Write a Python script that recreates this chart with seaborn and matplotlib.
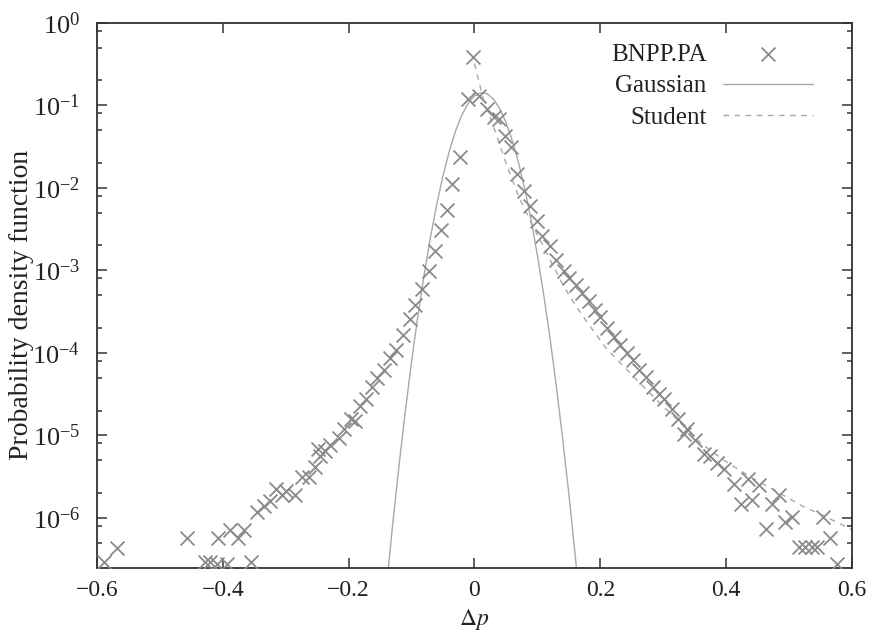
import numpy as np
import pandas as pd
import matplotlib
matplotlib.use("Agg")
import matplotlib.pyplot as plt
import seaborn as sns
from matplotlib.ticker import FixedLocator, NullFormatter, LogFormatterSciNotation

# ---------------- data ----------------
data_x = [-0.589, -0.568, -0.457, -0.429, -0.420, -0.409, -0.407, -0.394, -0.388, -0.376,
          -0.366, -0.356, -0.345, -0.335, -0.325, -0.315, -0.306, -0.299, -0.286, -0.274,
          -0.263, -0.253, -0.245, -0.248, -0.238, -0.229, -0.216, -0.207, -0.197, -0.190,
          -0.182, -0.173, -0.163, -0.155, -0.144, -0.134, -0.124, -0.113, -0.103, -0.094,
          -0.083, -0.073, -0.063, -0.053, -0.044, -0.035, -0.023, -0.011, -0.002, 0.007,
          0.020, 0.031, 0.039, 0.048, 0.058, 0.068, 0.078, 0.088, 0.099, 0.108,
          0.120, 0.130, 0.142, 0.150, 0.161, 0.171, 0.182, 0.192, 0.200, 0.211,
          0.221, 0.232, 0.242, 0.252, 0.261, 0.272, 0.283, 0.293, 0.301, 0.314,
          0.324, 0.333, 0.338, 0.350, 0.365, 0.375, 0.385, 0.396, 0.412, 0.423,
          0.434, 0.441, 0.452, 0.464, 0.473, 0.484, 0.494, 0.505, 0.516, 0.526,
          0.537, 0.545, 0.554, 0.565, 0.576]
data_y = [2.9e-7, 4.3e-7, 5.7e-7, 2.9e-7, 2.9e-7, 2.8e-7, 5.7e-7, 2.8e-7, 7.2e-7, 5.8e-7,
          7.2e-7, 2.9e-7, 1.18e-6, 1.38e-6, 1.6e-6, 2.26e-6, 1.88e-6, 2.1e-6, 1.88e-6, 3.1e-6,
          3.1e-6, 4.1e-6, 5.7e-6, 6.9e-6, 6.5e-6, 7.6e-6, 9.2e-6, 1.2e-5, 1.6e-5, 1.5e-5,
          2.3e-5, 2.8e-5, 3.9e-5, 4.9e-5, 6.2e-5, 8.6e-5, 1.08e-4, 1.65e-4, 2.56e-4, 3.8e-4,
          5.9e-4, 9.7e-4, 1.7e-3, 3.1e-3, 5.4e-3, 1.1e-2, 2.38e-2, 0.12, 0.38, 0.128,
          0.089, 0.073, 0.068, 0.042, 0.031, 0.0145, 9.1e-3, 6.0e-3, 4.0e-3, 2.6e-3,
          1.95e-3, 1.34e-3, 9.7e-4, 8.1e-4, 6.7e-4, 5.3e-4, 4.2e-4, 3.3e-4, 2.75e-4, 1.99e-4,
          1.57e-4, 1.25e-4, 1.0e-4, 8.2e-5, 6.2e-5, 5.1e-5, 3.9e-5, 3.2e-5, 2.8e-5, 2.1e-5,
          1.6e-5, 1.05e-5, 1.21e-5, 8.9e-6, 6.0e-6, 5.6e-6, 4.6e-6, 3.9e-6, 2.6e-6, 1.49e-6,
          3.0e-6, 1.63e-6, 2.5e-6, 7.4e-7, 1.49e-6, 1.88e-6, 8.9e-7, 1.04e-6, 4.4e-7, 4.4e-7,
          4.4e-7, 4.4e-7, 1.02e-6, 5.8e-7, 2.8e-7]

gauss_x = [-0.14, -0.13, -0.12, -0.11, -0.10, -0.09, -0.08, -0.07, -0.06, -0.05, -0.04,
           -0.03, -0.02, -0.01, 0.00, 0.01, 0.02, 0.03, 0.04, 0.05, 0.06, 0.07, 0.08,
           0.09, 0.10, 0.11, 0.12, 0.13, 0.14, 0.15, 0.16, 0.17]
gauss_y = [1.46e-7, 8.4e-7, 4.3e-6, 1.95e-5, 7.9e-5, 2.81e-4, 8.9e-4, 2.52e-3, 6.3e-3,
           1.41e-2, 2.79e-2, 4.90e-2, 7.64e-2, 0.106, 0.130, 0.142, 0.138, 0.119, 0.0912,
           0.0621, 0.0375, 0.0201, 9.6e-3, 4.06e-3, 1.52e-3, 5.08e-4, 1.51e-4, 3.97e-5,
           9.3e-6, 1.93e-6, 3.56e-7, 5.8e-8]

student_x = [0.000, 0.015, 0.03, 0.05, 0.07, 0.09, 0.12, 0.14, 0.16, 0.18, 0.21, 0.24,
             0.27, 0.30, 0.33, 0.36, 0.40, 0.44, 0.48, 0.52, 0.56, 0.60]
student_y = [0.32, 0.11, 5.6e-2, 2.0e-2, 7.9e-3, 3.8e-3, 1.35e-3, 6.8e-4, 3.8e-4, 2.3e-4,
             1.12e-4, 6.5e-5, 3.8e-5, 2.24e-5, 1.38e-5, 8.0e-6, 4.8e-6, 3.1e-6, 2.1e-6,
             1.41e-6, 1.02e-6, 7.2e-7]

x_ticks = [-0.6, -0.4, -0.2, 0.0, 0.2, 0.4, 0.6]
x_tick_labels = ["\u22120.6", "\u22120.4", "\u22120.2", "0", "0.2", "0.4", "0.6"]
series_labels = ["BNPP.PA", "Gaussian", "Student"]

# ---------------- style ----------------
sns.set_theme(style="ticks")
plt.rcParams["font.family"] = ["Liberation Serif", "DejaVu Serif"]
plt.rcParams["mathtext.fontset"] = "stix"
plt.rcParams["axes.edgecolor"] = "#333333"

fig = plt.figure(figsize=(8.7, 6.34), dpi=100)
ax = fig.add_axes([97 / 870, 1 - 567.7 / 634, (852 - 97) / 870, (567.7 - 22.7) / 634])

df_pts = pd.DataFrame({"x": data_x, "y": data_y})
df_g = pd.DataFrame({"x": gauss_x, "y": gauss_y})
df_s = pd.DataFrame({"x": student_x, "y": student_y})

sns.scatterplot(data=df_pts, x="x", y="y", marker="x", s=100, color="#8a8a8a",
                linewidth=1.3, label=series_labels[0], ax=ax, zorder=3)
sns.lineplot(data=df_g, x="x", y="y", color="#a8a8a8", linewidth=1.0,
             label=series_labels[1], ax=ax, errorbar=None, zorder=2)
sns.lineplot(data=df_s, x="x", y="y", color="#a8a8a8", linewidth=1.0,
             linestyle=(0, (4, 4)), label=series_labels[2], ax=ax, errorbar=None, zorder=2)

ax.set_yscale("log")
ax.set_xlim(-0.6, 0.6)
ax.set_ylim(2.5e-7, 1.0)

ax.set_xticks(x_ticks)
ax.set_xticklabels(x_tick_labels)
ax.xaxis.set_minor_locator(FixedLocator([]))
ax.yaxis.set_major_locator(FixedLocator([10.0 ** k for k in range(-6, 1)]))
ax.yaxis.set_major_formatter(LogFormatterSciNotation())
minor = [m * 10.0 ** k for k in range(-7, 0) for m in (2, 5, 8)]
ax.yaxis.set_minor_locator(FixedLocator(minor))
ax.yaxis.set_minor_formatter(NullFormatter())

for s in ax.spines.values():
    s.set_linewidth(1.3)
    s.set_color("#333333")

ax.tick_params(axis="both", which="both", direction="in", top=True, right=True,
               color="#333333", width=1.1)
ax.tick_params(axis="both", which="major", length=7)
ax.tick_params(axis="both", which="minor", length=3.6)
ax.tick_params(axis="x", which="major", labelsize=17, pad=9, labelcolor="#222222")
ax.tick_params(axis="y", which="major", labelsize=19, pad=12, labelcolor="#222222")

ax.set_xlabel(r"$\Delta p$", fontsize=17, color="#222222", labelpad=4)
ax.set_ylabel("Probability density function", fontsize=20, color="#222222")
ax.yaxis.set_label_coords(-0.084, 0.482)

leg = ax.legend(loc="upper right", bbox_to_anchor=(0.948, 0.962), markerfirst=False,
                frameon=False, fontsize=18, handlelength=3.6, handletextpad=0.65,
                labelspacing=0.36, borderpad=0, borderaxespad=0, scatterpoints=1)
for t in leg.get_texts():
    t.set_color("#222222")

fig.savefig("out.png", dpi=100)
